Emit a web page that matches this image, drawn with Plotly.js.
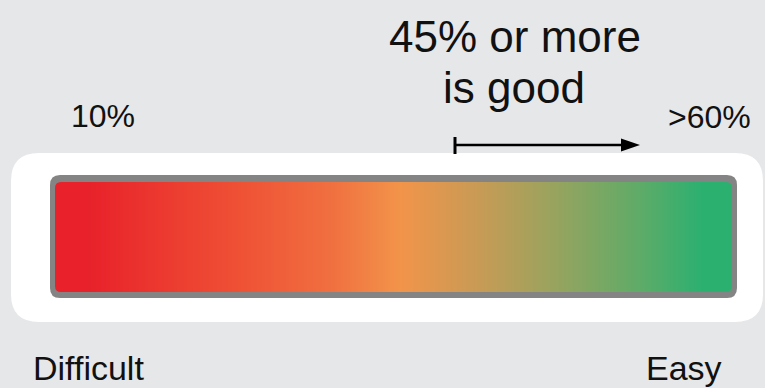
<!DOCTYPE html>
<html>
<head>
<meta charset="utf-8">
<script src="https://cdn.plot.ly/plotly-3.0.1.min.js"></script>
<style>html,body{margin:0;padding:0;background:#e6e7e9;}#chart{width:765px;height:388px;}</style>
</head>
<body>
<div id="chart"></div>
<script>
// ---- data ----
const scalePercent = [10, 15, 20, 25, 30, 35, 40, 45, 50, 55, 60];
const scaleValue   = [10, 15, 20, 25, 30, 35, 40, 45, 50, 55, 60];
const scaleLabels  = ['10%', '>60%'];
const noteLines    = ['45% or more', 'is good'];
const endLabels    = ['Difficult', 'Easy'];
const gradientStops = [
  [0.00, '#e8212a'], [0.13, '#ec3a30'], [0.27, '#ef5536'], [0.40, '#f07040'],
  [0.51, '#f2944a'], [0.64, '#c79b55'], [0.77, '#94a45f'], [0.90, '#5eab68'],
  [1.00, '#2cb070']
];

// ---- helpers (pixel -> paper) ----
const W = 765, H = 388;
const px = x => x / W;
const py = y => 1 - y / H;
function roundRect(x0, y0, x1, y1, r) {
  return 'M' + px(x0 + r) + ',' + py(y0) +
    ' L' + px(x1 - r) + ',' + py(y0) +
    ' Q' + px(x1) + ',' + py(y0) + ' ' + px(x1) + ',' + py(y0 + r) +
    ' L' + px(x1) + ',' + py(y1 - r) +
    ' Q' + px(x1) + ',' + py(y1) + ' ' + px(x1 - r) + ',' + py(y1) +
    ' L' + px(x0 + r) + ',' + py(y1) +
    ' Q' + px(x0) + ',' + py(y1) + ' ' + px(x0) + ',' + py(y1 - r) +
    ' L' + px(x0) + ',' + py(y0 + r) +
    ' Q' + px(x0) + ',' + py(y0) + ' ' + px(x0 + r) + ',' + py(y0) + ' Z';
}
function cornerMask(cx, cy, dx, dy, r) {
  return 'M' + px(cx) + ',' + py(cy) +
    ' L' + px(cx + dx * r) + ',' + py(cy) +
    ' Q' + px(cx) + ',' + py(cy) + ' ' + px(cx) + ',' + py(cy + dy * r) + ' Z';
}

const border = '#848485';
const trace = {
  type: 'heatmap',
  x: scalePercent,
  y: [0],
  z: [scaleValue],
  zmin: 10, zmax: 60,
  colorscale: gradientStops,
  zsmooth: 'best',
  showscale: false,
  hoverinfo: 'skip'
};

const fontFam = 'Liberation Sans, Arial, sans-serif';
const shapes = [
  {type: 'path', xref: 'paper', yref: 'paper', layer: 'below', path: roundRect(11, 153, 763, 322, 28), fillcolor: '#ffffff', line: {width: 0}},
  {type: 'path', xref: 'paper', yref: 'paper', layer: 'below', path: roundRect(50, 175, 737, 298, 10), fillcolor: border, line: {width: 0}},
  {type: 'path', xref: 'paper', yref: 'paper', path: cornerMask(55, 182, 1, 1, 6), fillcolor: border, line: {width: 0}},
  {type: 'path', xref: 'paper', yref: 'paper', path: cornerMask(732, 182, -1, 1, 6), fillcolor: border, line: {width: 0}},
  {type: 'path', xref: 'paper', yref: 'paper', path: cornerMask(55, 292, 1, -1, 6), fillcolor: border, line: {width: 0}},
  {type: 'path', xref: 'paper', yref: 'paper', path: cornerMask(732, 292, -1, -1, 6), fillcolor: border, line: {width: 0}},
  // arrow
  {type: 'line', xref: 'paper', yref: 'paper', x0: px(455), y0: py(145), x1: px(624), y1: py(145), line: {color: '#000', width: 2.5}},
  {type: 'line', xref: 'paper', yref: 'paper', x0: px(455), y0: py(137), x1: px(455), y1: py(154), line: {color: '#000', width: 3}},
  {type: 'path', xref: 'paper', yref: 'paper', path: 'M' + px(621) + ',' + py(138.5) + ' L' + px(640) + ',' + py(145) + ' L' + px(621) + ',' + py(151.5) + ' Z', fillcolor: '#000', line: {width: 0}}
];

function ann(text, x, y, size, xanchor) {
  return {text: text, xref: 'paper', yref: 'paper', x: px(x), y: py(y), xanchor: xanchor, yanchor: 'middle',
    showarrow: false, borderpad: 0, font: {family: fontFam, size: size, color: '#111111'}};
}
const annotations = [
  ann(noteLines[0], 515, 52 - 0.35 * 44, 44, 'center'),
  ann(noteLines[1], 514, 103 - 0.35 * 44, 44, 'center'),
  ann(scaleLabels[0], 70, 127 - 0.35 * 32, 32, 'left'),
  ann(scaleLabels[1], 752, 128 - 0.35 * 32, 32, 'right'),
  ann(endLabels[0], 32, 380 - 0.35 * 34, 34, 'left'),
  ann(endLabels[1], 645, 380 - 0.35 * 34, 34, 'left')
];

const layout = {
  width: W, height: H, autosize: false,
  margin: {l: 0, r: 0, t: 0, b: 0, pad: 0},
  paper_bgcolor: '#e6e7e9',
  plot_bgcolor: 'rgba(0,0,0,0)',
  xaxis: {range: [3.032, 65.181], visible: false, fixedrange: true},
  yaxis: {range: [-1.3727, 2.1545], visible: false, fixedrange: true},
  shapes: shapes,
  annotations: annotations,
  showlegend: false
};

Plotly.newPlot('chart', [trace], layout, {displayModeBar: false, staticPlot: true});
</script>
</body>
</html>
